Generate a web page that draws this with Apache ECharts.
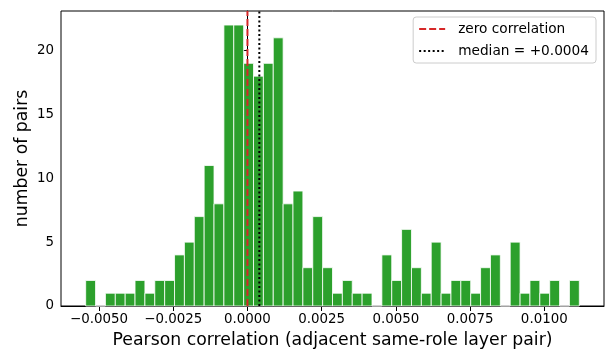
<!DOCTYPE html>
<html>
<head>
<meta charset="utf-8">
<script src="https://cdn.jsdelivr.net/npm/echarts@6/dist/echarts.min.js"></script>
<style>
html,body{margin:0;padding:0;background:#fff;}
#c{width:609px;height:352px;}
</style>
</head>
<body>
<div id="c"></div>
<script>
// Histogram: 50 bins between binMin and binMax
const binMin = -0.00545;
const binMax = 0.01118;
const counts = [2,0,1,1,1,2,1,2,2,4, 5,7,11,8,22,22,19,18,19,21, 8,9,3,7,3,1,2,1,1,0, 4,2,6,3,1,5,1,2,2,1, 3,4,0,5,1,2,1,2,0,2];
const xTicks = [-0.005, -0.0025, 0, 0.0025, 0.005, 0.0075, 0.01];
const xTickLabels = ['\u22120.0050', '\u22120.0025', '0.0000', '0.0025', '0.0050', '0.0075', '0.0100'];
const yTicks = [0, 5, 10, 15, 20];
const zeroLine = 0;
const medianValue = 0.0004;
const medianLabel = 'median = +0.0004';

const nBins = counts.length;
const w = (binMax - binMin) / nBins;
const binData = counts.map((c, i) => [binMin + i * w, binMin + (i + 1) * w, c]);
const span = binMax - binMin;
const xMin = binMin - 0.05 * span, xMax = binMax + 0.05 * span;
const yMax = Math.max(...counts) * 1.05;

const font = 'DejaVu Sans';
const fmtX = v => {
  let best = 0;
  xTicks.forEach((t, i) => { if (Math.abs(t - v) < Math.abs(xTicks[best] - v)) best = i; });
  return xTickLabels[best];
};

const chart = echarts.init(document.getElementById('c'), null, {renderer: 'canvas'});
chart.setOption({
  animation: false,
  backgroundColor: '#fff',
  textStyle: {fontFamily: font},
  grid: {left: 61, right: 5, top: 11, bottom: 46, containLabel: false, outerBoundsMode: 'none',
         show: true, borderColor: '#000', borderWidth: 1, backgroundColor: 'transparent'},
  legend: {
    orient: 'vertical', right: 13, top: 17,
    padding: [5, 7, 5, 5], itemGap: 8, itemWidth: 26, itemHeight: 14,
    backgroundColor: 'rgba(255,255,255,0.8)', borderColor: '#cccccc', borderWidth: 1, borderRadius: 3,
    itemStyle: {opacity: 0},
    textStyle: {fontFamily: font, fontSize: 13.7, color: '#000', padding: [0, 0, 0, 8]},
    data: ['zero correlation', medianLabel]
  },
  xAxis: {
    type: 'value', min: xMin, max: xMax,
    name: 'Pearson correlation (adjacent same-role layer pair)',
    nameLocation: 'middle', nameGap: 26, nameMoveOverlap: false,
    nameTextStyle: {fontFamily: font, fontSize: 17.3, color: '#000'},
    axisLine: {show: true, onZero: false, lineStyle: {color: '#000', width: 1}},
    axisTick: {show: true, length: 5, lineStyle: {color: '#000'}, customValues: xTicks},
    axisLabel: {fontFamily: font, fontSize: 13.4, color: '#000', margin: 7, customValues: xTicks, formatter: fmtX},
    splitLine: {show: false}
  },
  yAxis: {
    type: 'value', min: 0, max: yMax,
    name: 'number of pairs', nameLocation: 'middle', nameGap: 30, nameRotate: 90, nameMoveOverlap: false,
    nameTextStyle: {fontFamily: font, fontSize: 17.3, color: '#000'},
    axisLine: {show: true, lineStyle: {color: '#000', width: 1}},
    axisTick: {show: true, length: 5, lineStyle: {color: '#000'}, customValues: yTicks},
    axisLabel: {fontFamily: font, fontSize: 13.4, color: '#000', margin: 7, customValues: yTicks},
    splitLine: {show: false}
  },
  series: [
    {
      type: 'custom', name: 'hist',
      data: binData,
      encode: {x: [0, 1], y: 2},
      renderItem: function (params, api) {
        const p0 = api.coord([api.value(0), 0]);
        const p1 = api.coord([api.value(1), api.value(2)]);
        return {
          type: 'rect',
          shape: {x: p0[0], y: p1[1], width: p1[0] - p0[0], height: p0[1] - p1[1]},
          style: {fill: '#2ca02c', stroke: '#ffffff', lineWidth: 0.8}
        };
      },
      z: 2
    },
    {
      type: 'line', name: 'zero correlation',
      data: [[zeroLine, 0], [zeroLine, yMax]],
      symbol: 'none', z: 5,
      lineStyle: {color: '#d62728', width: 2, type: [7, 3]},
      itemStyle: {color: '#d62728'}
    },
    {
      type: 'line', name: medianLabel,
      data: [[medianValue, 0], [medianValue, yMax]],
      symbol: 'none', z: 5,
      lineStyle: {color: '#000', width: 2, type: [2, 2.5]},
      itemStyle: {color: '#000'}
    }
  ]
});
</script>
</body>
</html>
